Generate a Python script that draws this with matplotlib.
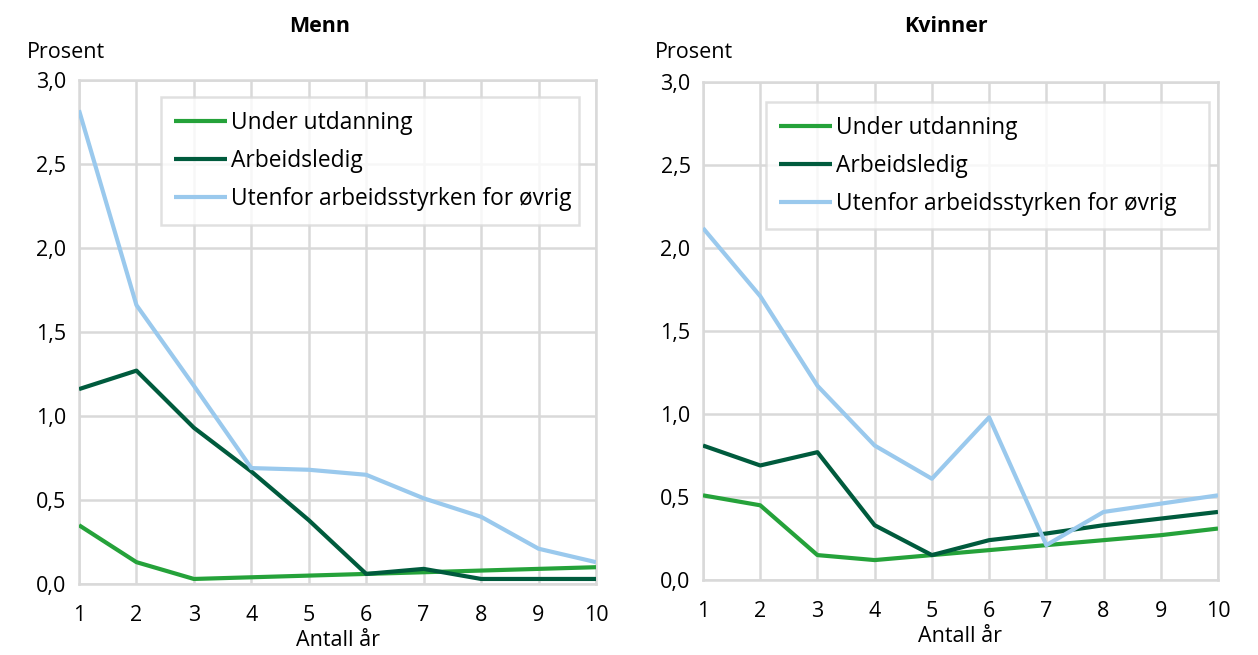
import matplotlib.pyplot as plt
from matplotlib.ticker import FuncFormatter

plt.rcParams['font.family'] = ['Open Sans', 'DejaVu Sans']

years = [1, 2, 3, 4, 5, 6, 7, 8, 9, 10]
series_names = ["Under utdanning", "Arbeidsledig", "Utenfor arbeidsstyrken for øvrig"]
colors = ["#25a23a", "#005b3d", "#9ac9ed"]

menn_utdanning = [0.35, 0.13, 0.03, 0.04, 0.05, 0.06, 0.07, 0.08, 0.09, 0.10]
menn_ledig = [1.16, 1.27, 0.93, 0.67, 0.38, 0.06, 0.09, 0.03, 0.03, 0.03]
menn_utenfor = [2.82, 1.66, 1.18, 0.69, 0.68, 0.65, 0.51, 0.40, 0.21, 0.13]

kvinner_utdanning = [0.51, 0.45, 0.15, 0.12, 0.15, 0.18, 0.21, 0.24, 0.27, 0.31]
kvinner_ledig = [0.81, 0.69, 0.77, 0.33, 0.15, 0.24, 0.28, 0.33, 0.37, 0.41]
kvinner_utenfor = [2.12, 1.71, 1.17, 0.81, 0.61, 0.98, 0.21, 0.41, 0.46, 0.51]

W, H = 1258, 655
fig = plt.figure(figsize=(W / 100, H / 100), dpi=100)

grid_col = "#d9d9d9"
fs = 15.5
leg_fs = 16.4


def px_axes(l, t, r, b):
    return fig.add_axes([l / W, (H - b) / H, (r - l) / W, (b - t) / H])


def draw(ax, title, data, title_x, prosent_x, leg_box):
    for vals, name, c in zip(data, series_names, colors):
        ax.plot(years, vals, color=c, linewidth=3.0, label=name,
                solid_capstyle='butt', zorder=3)
    ax.set_xlim(1, 10)
    ax.set_ylim(0, 3.0)
    ax.set_xticks(years)
    ax.set_yticks([0, 0.5, 1.0, 1.5, 2.0, 2.5, 3.0])
    ax.yaxis.set_major_formatter(FuncFormatter(lambda v, p: f"{v:.1f}".replace('.', ',')))
    ax.grid(True, color=grid_col, linewidth=1.8)
    ax.set_axisbelow(True)
    for s in ax.spines.values():
        s.set_color(grid_col)
        s.set_linewidth(1.8)
    ax.tick_params(length=0, labelsize=fs, colors="#000000", pad=9)
    ax.tick_params(axis='x', pad=15)
    ax.set_xlabel("Antall år", fontsize=fs, labelpad=3)
    fig.text(title_x / W, 1 - 26 / H, title, fontsize=fs, fontweight='bold',
             ha='center', va='center')
    fig.text(prosent_x / W, 1 - 52 / H, "Prosent", fontsize=fs, ha='left', va='center')
    leg = ax.legend(loc='upper left', bbox_to_anchor=leg_box, mode='expand',
                    fontsize=leg_fs, frameon=True, fancybox=False, edgecolor=grid_col,
                    handlelength=2.3, handletextpad=0.2, labelspacing=0.62,
                    borderpad=0.6, borderaxespad=0)
    leg.get_frame().set_linewidth(1.8)
    for h in leg.get_lines():
        h.set_linewidth(3.0)


ax1 = px_axes(79, 80, 596, 584)
draw(ax1, "Menn", [menn_utdanning, menn_ledig, menn_utenfor], 320, 27,
     (0.158, 0.966, 0.81, 0.0))

ax2 = px_axes(703, 82, 1218, 580)
draw(ax2, "Kvinner", [kvinner_utdanning, kvinner_ledig, kvinner_utenfor], 946, 655,
     (0.122, 0.96, 0.86, 0.0))

fig.savefig("out.png", dpi=100)
